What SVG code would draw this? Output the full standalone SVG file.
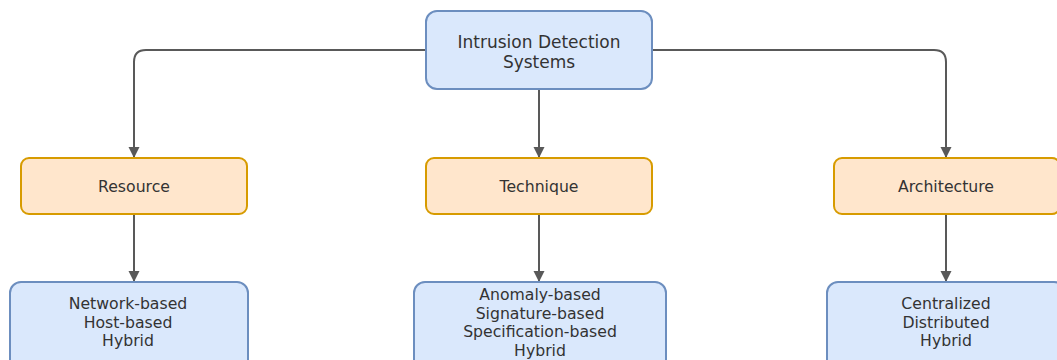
<svg xmlns="http://www.w3.org/2000/svg" width="1057" height="360" viewBox="0 0 1057 360">
<style>
.blue{fill:#dae8fc;stroke:#6c8ebf;stroke-width:2}
.orange{fill:#ffe6cc;stroke:#d79b00;stroke-width:2}
text{font-family:"DejaVu Sans",Verdana,sans-serif;font-size:15.7px;fill:#333333;text-anchor:middle}
.big{font-size:17px}
.edge{fill:none;stroke:#595959;stroke-width:2}
</style>
<defs>
<marker id="arr" markerWidth="12" markerHeight="12" refX="10" refY="6" orient="auto" markerUnits="userSpaceOnUse">
<path d="M0,0.5 L11,6 L0,11.5 Z" fill="#595959"/>
</marker>
</defs>
<rect width="1057" height="360" fill="#ffffff"/>
<g id="connectors">
<path class="edge" d="M426,50 H146 Q134,50 134,62 V157" marker-end="url(#arr)"/>
<path class="edge" d="M652,50 H934 Q946,50 946,62 V157" marker-end="url(#arr)"/>
<path class="edge" d="M539,89 V157" marker-end="url(#arr)"/>
<path class="edge" d="M134,214 V281" marker-end="url(#arr)"/>
<path class="edge" d="M539,214 V281" marker-end="url(#arr)"/>
<path class="edge" d="M946,214 V281" marker-end="url(#arr)"/>
</g>
<g id="ids">
<rect class="blue" x="426" y="11" width="226" height="78" rx="11"/>
<text class="big" x="539" y="48">Intrusion Detection</text>
<text class="big" x="539" y="68">Systems</text>
</g>
<g id="resource">
<rect class="orange" x="21" y="158" width="226" height="56" rx="8"/>
<text x="134" y="191.5">Resource</text>
</g>
<g id="technique">
<rect class="orange" x="426" y="158" width="226" height="56" rx="8"/>
<text x="539" y="191.5">Technique</text>
</g>
<g id="architecture">
<rect class="orange" x="834" y="158" width="226" height="56" rx="8"/>
<text x="946" y="191.5">Architecture</text>
</g>
<g id="resource-types">
<rect class="blue" x="10" y="282" width="238" height="90" rx="11"/>
<text x="128" y="309">Network-based</text>
<text x="128" y="327.5">Host-based</text>
<text x="128" y="346">Hybrid</text>
</g>
<g id="technique-types">
<rect class="blue" x="414" y="282" width="252" height="90" rx="11"/>
<text x="540" y="300">Anomaly-based</text>
<text x="540" y="318.5">Signature-based</text>
<text x="540" y="337">Specification-based</text>
<text x="540" y="355.5">Hybrid</text>
</g>
<g id="architecture-types">
<rect class="blue" x="827" y="282" width="238" height="90" rx="11"/>
<text x="946" y="309">Centralized</text>
<text x="946" y="327.5">Distributed</text>
<text x="946" y="346">Hybrid</text>
</g>
</svg>
